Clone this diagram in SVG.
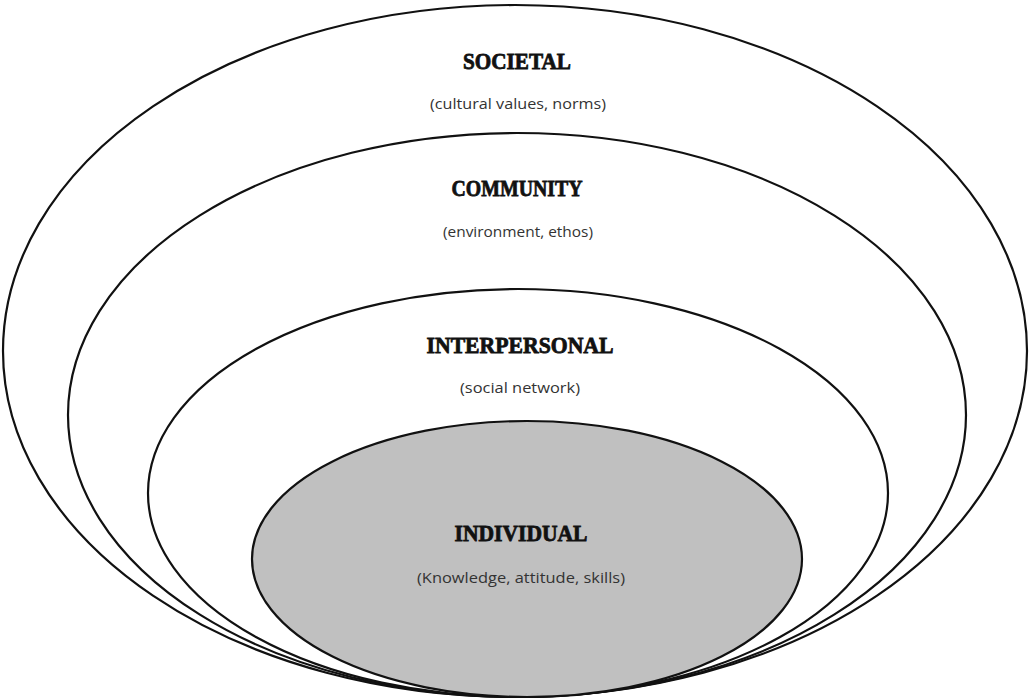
<svg xmlns="http://www.w3.org/2000/svg" width="1029" height="700" viewBox="0 0 1029 700">
<style>
.ring{fill:#ffffff;stroke:#111;stroke-width:2.2}
.core{fill:#c0c0c0;stroke:#111;stroke-width:2.2}
.title{font-family:"Liberation Serif","DejaVu Serif",serif;font-weight:bold;font-size:23px;fill:#111;stroke:#111;stroke-width:0.8;text-anchor:middle}
.sub{font-family:"Open Sans","Liberation Sans",sans-serif;font-size:15px;fill:#333;text-anchor:middle}
</style>
<rect width="1029" height="700" fill="#ffffff"/>
<g id="societal">
<ellipse class="ring" cx="515" cy="351" rx="512" ry="346"/>
<text class="title" x="517" y="69" textLength="108" lengthAdjust="spacingAndGlyphs">SOCIETAL</text>
<text class="sub" x="518" y="109" textLength="176" lengthAdjust="spacingAndGlyphs">(cultural values, norms)</text>
</g>
<g id="community">
<ellipse class="ring" cx="517" cy="415" rx="449" ry="282"/>
<text class="title" x="517" y="196" textLength="131" lengthAdjust="spacingAndGlyphs">COMMUNITY</text>
<text class="sub" x="518" y="237" textLength="150" lengthAdjust="spacingAndGlyphs">(environment, ethos)</text>
</g>
<g id="interpersonal">
<ellipse class="ring" cx="518" cy="493" rx="370" ry="204"/>
<text class="title" x="520" y="353" textLength="187" lengthAdjust="spacingAndGlyphs">INTERPERSONAL</text>
<text class="sub" x="520" y="393" textLength="120" lengthAdjust="spacingAndGlyphs">(social network)</text>
</g>
<g id="individual">
<ellipse class="core" cx="527" cy="559" rx="275" ry="138"/>
<text class="title" x="521" y="541" textLength="133" lengthAdjust="spacingAndGlyphs">INDIVIDUAL</text>
<text class="sub" x="521" y="583" textLength="208" lengthAdjust="spacingAndGlyphs">(Knowledge, attitude, skills)</text>
</g>
<g id="connectors"></g>
</svg>
